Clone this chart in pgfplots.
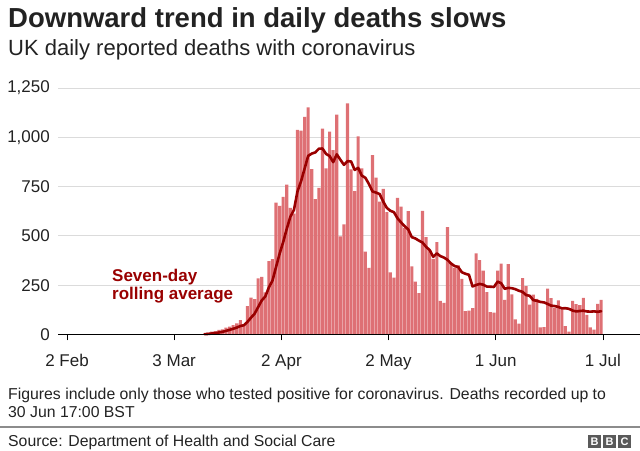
\documentclass[border=0pt]{standalone}
\usepackage{pgfplots}
\pgfplotsset{compat=1.18}
\usepackage{pgfplotstable}
\usepackage{fontspec}
\setmainfont{Liberation Sans}
\definecolor{barred}{RGB}{222,112,116}
\definecolor{linered}{RGB}{153,0,0}
\definecolor{titlegray}{RGB}{34,34,34}
\definecolor{bbcgray}{RGB}{90,90,90}

% day number: 2 Feb 2020 = 0 ; bars by reporting date
\pgfplotstableread{
d v
33 1
34 0
35 2
36 1
37 2
38 2
39 4
40 9
41 14
42 17
43 23
44 26
45 35
46 40
47 48
48 56
49 73
50 50
51 144
52 187
53 179
54 284
55 292
56 214
57 372
58 382
59 669
60 652
61 698
62 760
63 642
64 613
65 1038
66 1034
67 1103
68 1152
69 839
70 686
71 744
72 1044
73 842
74 1029
75 935
76 1115
77 498
78 559
79 1172
80 837
81 727
82 1005
83 843
84 420
85 338
86 909
87 795
88 674
89 739
90 621
91 315
92 288
93 693
94 649
95 539
96 626
97 346
98 268
99 210
100 627
101 494
102 428
103 384
104 468
105 170
106 160
107 545
108 363
109 338
110 351
111 282
112 118
113 121
114 134
115 412
116 377
117 324
118 215
119 113
120 111
121 324
122 359
123 176
124 357
125 204
126 77
127 55
128 286
129 245
130 151
131 202
132 181
133 36
134 38
135 233
136 184
137 135
138 173
139 128
140 43
141 15
142 171
143 154
144 149
145 186
146 100
147 36
148 25
149 155
150 176
}\deaths

\pgfplotstableread{
d a
39 1.7
40 2.9
41 4.9
42 7.0
43 10.1
44 13.6
45 18.3
46 23.4
47 29.0
48 35.0
49 43.0
50 46.9
51 63.7
52 85.4
53 105.3
54 139.0
55 172.7
56 192.9
57 238.9
58 272.9
59 341.7
60 409.3
61 468.4
62 535.3
63 596.4
64 630.9
65 724.6
66 776.7
67 841.1
68 906.0
69 917.3
70 923.6
71 942.3
72 943.1
73 915.7
74 905.1
75 874.1
76 913.6
77 886.7
78 860.3
79 878.6
80 877.9
81 834.7
82 844.7
83 805.9
84 794.7
85 763.1
86 725.6
87 719.6
88 712.0
89 674.0
90 642.3
91 627.3
92 620.1
93 589.3
94 568.4
95 549.1
96 533.0
97 493.7
98 487.0
99 475.9
100 466.4
101 444.3
102 428.4
103 393.9
104 411.3
105 397.3
106 390.1
107 378.4
108 359.7
109 346.9
110 342.1
111 315.6
112 308.1
113 302.6
114 243.9
115 250.9
116 256.4
117 252.6
118 243.0
119 242.3
120 240.9
121 268.0
122 260.4
123 231.7
124 236.4
125 234.9
126 229.7
127 221.7
128 216.3
129 200.0
130 196.4
131 174.3
132 171.0
133 165.1
134 162.7
135 155.1
136 146.4
137 144.1
138 140.0
139 132.4
140 133.4
141 130.1
142 121.3
143 117.0
144 119.0
145 120.9
146 116.9
147 115.9
148 117.3
149 115.0
150 118.1
}\avg

\begin{document}
\begin{tikzpicture}[x=1pt,y=1pt]
\useasboundingbox (0,0) rectangle (640,450);
\begin{axis}[
  at={(58pt,115.5pt)}, anchor=south west,
  scale only axis, width=582pt, height=246.5pt,
  xmin=-2.02, xmax=160.87, ymin=0, ymax=1250,
  axis x line*=bottom, axis y line*=left,
  y axis line style={draw=none},
  x axis line style={draw=black, line width=0.8pt, -},
  xtick={0.5,30.5,60.5,90.5,120.5,150.5},
  xticklabels={2 Feb,3 Mar,2 Apr,2 May,1 Jun,1 Jul},
  ytick={0,250,500,750,1000,1250},
  yticklabels={0,250,500,750,{1,000},{1,250}},
  ymajorgrids, grid style={line width=0.8pt, draw=black!14},
  tick align=outside, major tick length=6pt,
  xtick style={draw=black, line width=0.8pt},
  ytick style={draw=none},
  tick label style={font=\fontsize{17}{17}\selectfont, text=titlegray},
  yticklabel style={anchor=east, inner sep=0pt, xshift=-2pt},
  xticklabel style={anchor=base, inner sep=0pt, yshift=-26.5pt},
  clip=false,
]
\addplot[ybar, bar width=0.86, bar shift=0pt, fill=barred, draw=none] table[x=d,y=v]{\deaths};
\addplot[linered, line width=2.6pt, line join=round, line cap=round, mark=none] table[x=d,y=a]{\avg};
\draw[black, line width=0.8pt] (axis cs:-1.5,0) -- (axis cs:159.5,0);
\end{axis}
\node[anchor=base west, inner sep=0pt, text=linered, font=\bfseries\fontsize{17}{17}\selectfont] at (112,168.5) {Seven-day};
\node[anchor=base west, inner sep=0pt, text=linered, font=\bfseries\fontsize{17}{17}\selectfont] at (112,150) {rolling average};
\node[anchor=base west, inner sep=0pt, text=titlegray, font=\bfseries\fontsize{27.5}{27.5}\selectfont] at (8,422) {Downward trend in daily deaths slows};
\node[anchor=base west, inner sep=0pt, text=titlegray, font=\fontsize{22}{22}\selectfont] at (8,394) {UK daily reported deaths with coronavirus};
\node[anchor=base west, inner sep=0pt, text=titlegray, font=\fontsize{15.8}{15.8}\selectfont] at (8,50) {Figures include only those who tested positive for coronavirus. Deaths recorded up to};
\node[anchor=base west, inner sep=0pt, text=titlegray, font=\fontsize{15.8}{15.8}\selectfont] at (8,32) {30 Jun 17:00 BST};
\draw[black!45, line width=1.2pt] (0,23) -- (640,23);
\node[anchor=base west, inner sep=0pt, text=titlegray, font=\fontsize{15.8}{15.8}\selectfont] at (8,3.5) {Source: Department of Health and Social Care};
\foreach \i/\l in {0/B,1/B,2/C}{
  \fill[bbcgray] (588+\i*15,2) rectangle ++(13,13);
  \node[text=white, font=\bfseries\fontsize{11}{11}\selectfont, inner sep=0pt] at (594.5+\i*15,8.5) {\l};
}
\end{tikzpicture}
\end{document}
